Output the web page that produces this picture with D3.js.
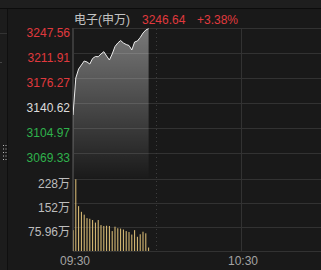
<!DOCTYPE html>
<meta charset="utf-8">
<style>
    body { margin: 0; background: #191919; }
    text { font-family: "Liberation Sans", Arial, "Noto Sans CJK SC", sans-serif; font-size: 12px; }
</style>
<body>
<svg></svg>
<script src="https://d3js.org/d3.v7.min.js"></script>
<script>

    let width = 321,
        height = 270;

    // header
    let indexName = "电子(申万)",
        lastPrice = "3246.64",
        changePct = "+3.38%";

    // minute data, 09:30 onwards
    let times = ["09:30","09:31","09:32","09:33","09:34","09:35","09:36","09:37","09:38","09:39",
                 "09:40","09:41","09:42","09:43","09:44","09:45","09:46","09:47","09:48","09:49",
                 "09:50","09:51","09:52","09:53","09:54","09:55","09:56","09:57"];
    let prices = [3123.5, 3176.3, 3189.1, 3194.8, 3200.5, 3199.1, 3196.2, 3204.1, 3206.9, 3206.6,
                  3210.5, 3213.8, 3207.6, 3201.9, 3210.5, 3221.2, 3226.2, 3229.7, 3226.2, 3224.0,
                  3222.6, 3216.2, 3227.6, 3229.0, 3234.0, 3240.4, 3244.7, 3246.64];
    // volume, in 万
    let volumes = [66, 227, 142, 124, 115, 104, 102, 98, 90, 98,
                   82, 79, 80, 79, 63, 77, 72, 71, 68, 63,
                   60, 52, 66, 45, 53, 61, 56, 11];

    let preClose = 3140.62;
    let priceTicks = [3247.56, 3211.91, 3176.27, 3140.62, 3104.97, 3069.33];
    let priceDomain = [3033.68, 3247.56];
    let volTicks = [227.88, 151.92, 75.96, 0];
    let volLabels = ["228万", "152万", "75.96万"];
    let volMax = 227.88;
    let timeTicks = ["09:30", "10:30"];
    let timeDotted = ["10:00"];

    let parse = d3.timeParse("%H:%M");

    let red = "#e0393e",
        green = "#2fb24c",
        gridColor = "#323232";

    let svg = d3.select("svg")
        .attr("width", width)
        .attr("height", height);

    // frame bits
    svg.append("rect").attr("x", 0).attr("y", 0).attr("width", width).attr("height", 8).attr("fill", "#1e1e1e");
    svg.append("line").attr("x1", 0).attr("x2", width).attr("y1", 8.5).attr("y2", 8.5).attr("stroke", "#0c0c0c");
    svg.append("rect").attr("x", 0).attr("y", 9).attr("width", 7).attr("height", height).attr("fill", "#1c1c1c");
    svg.append("line").attr("x1", 7.5).attr("x2", 7.5).attr("y1", 9).attr("y2", height).attr("stroke", "#0f0f0f");
    svg.append("line").attr("x1", 0).attr("x2", 7).attr("y1", 33.5).attr("y2", 33.5).attr("stroke", "#333");
    svg.append("line").attr("x1", 0).attr("x2", 2).attr("y1", 62.5).attr("y2", 62.5).attr("stroke", "#444");
    let grip = svg.append("g").attr("fill", "#bbb");
    [3, 5.5].forEach(function (gx) {
        [145, 148.5, 152, 155.5, 159].forEach(function (gy) {
            grip.append("rect").attr("x", gx).attr("y", gy).attr("width", 1).attr("height", 1);
        });
    });

    let plotLeft = 73;

    let x = d3.scaleTime()
        .domain([parse("09:30"), parse("10:30")])
        .range([plotLeft, 241]);

    let y = d3.scaleLinear().domain(priceDomain).range([178, 28]);
    let yv = d3.scaleLinear().domain([0, volMax]).range([251, 179]);

    // gridlines
    let grid = svg.append("g").attr("stroke", gridColor).attr("stroke-width", 1);
    grid.selectAll(".pg").data(priceTicks).enter().append("line")
        .attr("x1", plotLeft).attr("x2", width)
        .attr("y1", function (d) { return Math.round(y(d)) + 0.5; })
        .attr("y2", function (d) { return Math.round(y(d)) + 0.5; });
    grid.selectAll(".vg").data(volTicks).enter().append("line")
        .attr("x1", plotLeft).attr("x2", width)
        .attr("y1", function (d) { return Math.round(yv(d)) + 0.5; })
        .attr("y2", function (d) { return Math.round(yv(d)) + 0.5; });
    grid.selectAll(".tg").data(timeTicks).enter().append("line")
        .attr("x1", function (d) { return Math.round(x(parse(d))) + 0.5; })
        .attr("x2", function (d) { return Math.round(x(parse(d))) + 0.5; })
        .attr("y1", 28).attr("y2", 251)
        .attr("stroke", function (d, i) { return i === 0 ? "#3a3a3a" : gridColor; });
    grid.selectAll(".dg").data(timeDotted).enter().append("line")
        .attr("x1", function (d) { return Math.round(x(parse(d))) - 0.5; })
        .attr("x2", function (d) { return Math.round(x(parse(d))) - 0.5; })
        .attr("y1", 29).attr("y2", 250)
        .attr("stroke", "#3c3c3c")
        .attr("stroke-dasharray", "1,3");

    // area + line
    let pts = times.map(function (t, i) { return {t: parse(t), p: prices[i], v: volumes[i]}; });

    let defs = svg.append("defs");
    let grad = defs.append("linearGradient")
        .attr("id", "fade")
        .attr("gradientUnits", "userSpaceOnUse")
        .attr("x1", 0).attr("x2", 0).attr("y1", 28).attr("y2", 180);
    grad.append("stop").attr("offset", "0%").attr("stop-color", "#fff").attr("stop-opacity", 0.42);
    grad.append("stop").attr("offset", "100%").attr("stop-color", "#fff").attr("stop-opacity", 0.0);

    svg.append("path")
        .datum(pts)
        .attr("fill", "url(#fade)")
        .attr("d", d3.area()
            .x(function (d) { return x(d.t); })
            .y0(178)
            .y1(function (d) { return y(d.p); }));

    svg.append("path")
        .datum(pts)
        .attr("fill", "none")
        .attr("stroke", "#ececec")
        .attr("stroke-width", 1)
        .attr("d", d3.line()
            .x(function (d) { return x(d.t); })
            .y(function (d) { return y(d.p); }));

    // volume bars
    svg.append("g").attr("fill", "#e3c47a")
        .selectAll("rect").data(pts).enter().append("rect")
        .attr("x", function (d) { return x(d.t) - 0.5; })
        .attr("width", 1)
        .attr("y", function (d) { return yv(d.v); })
        .attr("height", function (d) { return 251 - yv(d.v); });

    // plot left border
    svg.append("line").attr("x1", plotLeft - 0.5).attr("x2", plotLeft - 0.5)
        .attr("y1", 28).attr("y2", 251).attr("stroke", "#3a3a3a");

    // price labels
    svg.append("g").selectAll("text").data(priceTicks).enter().append("text")
        .attr("x", 70)
        .attr("y", function (d) { return Math.round(y(d)) + 9; })
        .attr("text-anchor", "end")
        .attr("fill", function (d) {
            if (d > preClose) return red;
            if (d < preClose) return green;
            return "#dcdcdc";
        })
        .text(function (d) { return d.toFixed(2); });

    // volume labels
    svg.append("g").selectAll("text").data(volLabels).enter().append("text")
        .attr("x", 70)
        .attr("y", function (d, i) { return Math.round(yv(volTicks[i])) + 8.5; })
        .attr("text-anchor", "end")
        .attr("fill", "#bdbdbd")
        .text(function (d) { return d; });

    // time labels
    svg.append("g").selectAll("text").data(timeTicks).enter().append("text")
        .attr("x", function (d) { return x(parse(d)) + 2; })
        .attr("y", 265)
        .attr("text-anchor", "middle")
        .attr("fill", "#a3a3a3")
        .text(function (d) { return d; });

    // header
    svg.append("text").attr("x", 74).attr("y", 24).attr("fill", "#c4c4c4").text(indexName);
    svg.append("text").attr("x", 142).attr("y", 24).attr("fill", red).text(lastPrice);
    svg.append("text").attr("x", 197).attr("y", 24).attr("fill", red).text(changePct);

</script>
</body>
